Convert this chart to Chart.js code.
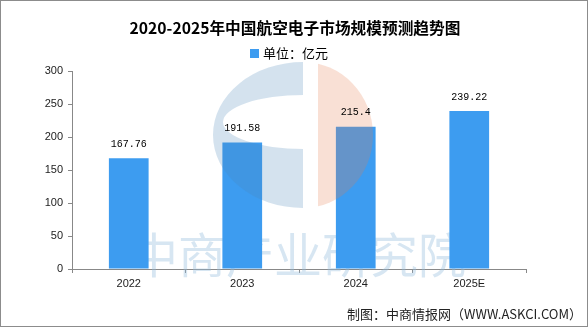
<!DOCTYPE html>
<html>
<head>
  <meta charset="utf-8">
  <title>航空电子市场规模</title>
  <script src="https://cdn.jsdelivr.net/npm/chart.js"></script>
  <style>
    body { margin: 0; background: #fff; }
    #wrap { width: 588px; height: 327px; box-sizing: border-box; border: 1px solid #8c8c8c; }
    canvas { display: block; }
  </style>
</head>
<body>
  <div id="wrap">
    <canvas id="marketChart" width="586" height="325"></canvas>
  </div>

  <script>
    // chart data
    const titleText = '2020-2025年中国航空电子市场规模预测趋势图';
    const unitLabel = '单位：亿元';
    const sourceText = '制图：中商情报网（WWW.ASKCI.COM）';
    const watermarkText = '中商产业研究院';
    const years = ['2022', '2023', '2024', '2025E'];
    const marketSize = [167.76, 191.58, 215.4, 239.22];
    const yTicks = [0, 50, 100, 150, 200, 250, 300];

    const barColor = '#3d9cf0';
    const cjk = '"Noto Sans CJK SC", "Noto Sans", sans-serif';

    // faint company mark: text behind the bars, round logo over them
    const watermark = {
      id: 'watermark',
      beforeDatasetsDraw(chart) {
        const ctx = chart.ctx;
        ctx.save();
        ctx.font = '48px ' + cjk;
        ctx.fillStyle = 'rgba(150, 190, 220, 0.38)';
        ctx.textAlign = 'center';
        ctx.textBaseline = 'middle';
        ctx.fillText(watermarkText, 297, 254);
        ctx.restore();
      },
      afterDatasetsDraw(chart) {
        const ctx = chart.ctx;
        const cx = 302, cy = 134;
        ctx.save();
        // left half: blue "C" with an oval opening
        ctx.beginPath();
        ctx.rect(0, 0, cx, chart.height);
        ctx.clip();
        ctx.beginPath();
        ctx.ellipse(cx, cy, 90, 73, 0, 0, Math.PI * 2);
        ctx.ellipse(cx, cy - 13, 80, 27, 0, 0, Math.PI * 2);
        ctx.fillStyle = 'rgba(75, 135, 183, 0.24)';
        ctx.fill('evenodd');
        ctx.restore();

        // right half: peach
        ctx.save();
        ctx.beginPath();
        ctx.rect(cx + 15, 0, chart.width, chart.height);
        ctx.clip();
        ctx.beginPath();
        ctx.ellipse(cx, cy, 70, 73, 0, 0, Math.PI * 2);
        ctx.fillStyle = 'rgba(231, 127, 79, 0.24)';
        ctx.fill();
        ctx.restore();

        // value labels above each bar
        const meta = chart.getDatasetMeta(0);
        ctx.save();
        ctx.font = '10px "Liberation Mono", "DejaVu Sans Mono", monospace';
        ctx.fillStyle = '#000';
        ctx.textAlign = 'center';
        ctx.textBaseline = 'middle';
        meta.data.forEach((bar, i) => {
          ctx.fillText(String(marketSize[i]), bar.x, bar.y - 14);
        });
        ctx.restore();
      },
      afterDraw(chart) {
        const ctx = chart.ctx;
        ctx.save();
        // title
        ctx.font = 'bold 15.7px ' + cjk;
        ctx.fillStyle = '#000';
        ctx.textAlign = 'center';
        ctx.textBaseline = 'middle';
        ctx.fillText(titleText, 294, 27);

        // legend
        ctx.fillStyle = barColor;
        ctx.fillRect(249, 48, 9, 9);
        ctx.font = '13px ' + cjk;
        ctx.fillStyle = '#000';
        ctx.textAlign = 'left';
        ctx.fillText(unitLabel, 262, 52);

        // source line
        ctx.font = '13px ' + cjk;
        ctx.fillStyle = '#222';
        ctx.textAlign = 'right';
        ctx.fillText(sourceText, 581, 313);
        ctx.restore();
      }
    };

    const ctx = document.getElementById('marketChart').getContext('2d');
    new Chart(ctx, {
      type: 'bar',
      data: {
        labels: years,
        datasets: [{
          label: unitLabel,
          data: marketSize,
          backgroundColor: barColor,
          categoryPercentage: 1,
          barPercentage: 0.35
        }]
      },
      options: {
        responsive: false,
        animation: false,
        layout: {
          padding: { top: 70, right: 61, bottom: 27, left: 0 }
        },
        plugins: {
          legend: { display: false },
          title: { display: false },
          tooltip: { enabled: false }
        },
        scales: {
          x: {
            afterFit: (axis) => { axis.height = 30; },
            grid: {
              drawOnChartArea: false,
              tickLength: 4,
              color: '#888'
            },
            border: { color: '#888' },
            ticks: {
              padding: 4,
              color: '#222',
              font: { family: '"Liberation Sans", Arial, sans-serif', size: 11 }
            }
          },
          y: {
            min: 0,
            max: 300,
            afterFit: (axis) => { axis.width = 71; },
            afterBuildTicks: (axis) => { axis.ticks = yTicks.map(v => ({ value: v })); },
            grid: {
              drawOnChartArea: false,
              tickLength: 4,
              color: '#888'
            },
            border: { color: '#888' },
            ticks: {
              padding: 5,
              color: '#222',
              font: { family: '"Liberation Sans", Arial, sans-serif', size: 11 }
            }
          }
        }
      },
      plugins: [watermark]
    });
  </script>
</body>
</html>
